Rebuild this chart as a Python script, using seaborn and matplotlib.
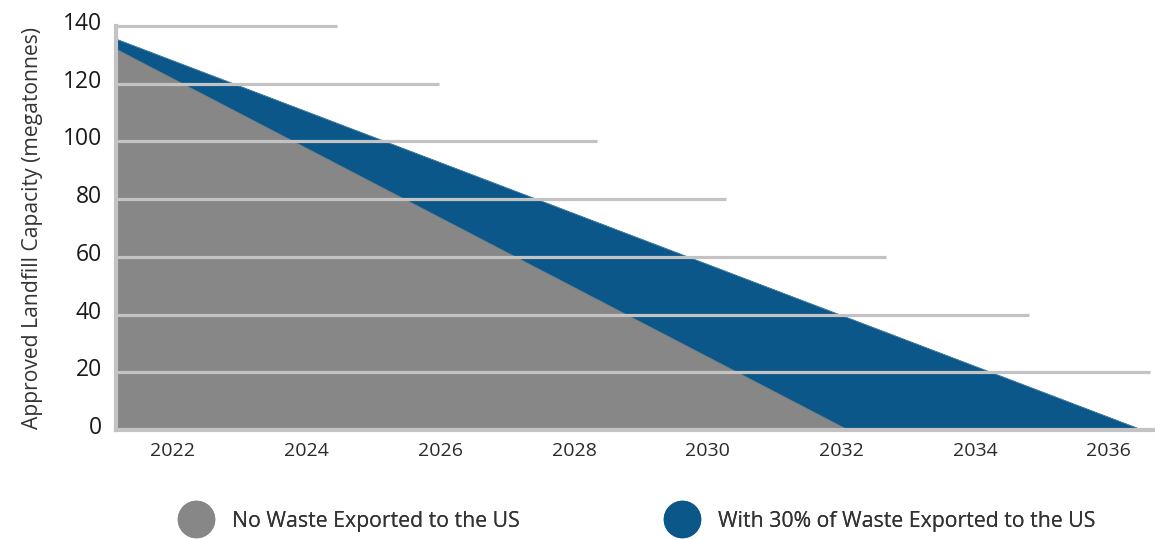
import matplotlib
matplotlib.use("Agg")
import matplotlib.pyplot as plt
import matplotlib.transforms as mtransforms
from matplotlib.lines import Line2D
from matplotlib import font_manager
import seaborn as sns
import pandas as pd

# ---- data ----
years_none = [2021.15, 2032.1]
cap_none = [132, 0]
years_export = [2021.15, 2036.5]
cap_export = [135.5, 0]
x_ticks = [2022, 2024, 2026, 2028, 2030, 2032, 2034, 2036]
y_ticks = [0, 20, 40, 60, 80, 100, 120, 140]
grid_levels = [140, 120, 100, 80, 60, 40, 20]
grid_ends = [2024.45, 2025.98, 2028.35, 2030.28, 2032.67, 2034.8, 2036.62]
label_none = "No Waste Exported to the US"
label_export = "With 30% of Waste Exported to the US"
y_label = "Approved Landfill Capacity (megatonnes)"

GRAY = "#878787"
BLUE = "#0b5789"
GRID = "#c3c3c3"

sns.set_theme(style="white")
plt.rcParams["font.family"] = ["Open Sans", "DejaVu Sans"]

names = {f.name for f in font_manager.fontManager.ttflist}
if "Liberation Sans Narrow" in names:
    xfam, xfs = ["Liberation Sans Narrow", "DejaVu Sans"], 17.5
else:
    xfam, xfs = ["Open Sans", "DejaVu Sans"], 14

fig = plt.figure(figsize=(11.55, 5.39), dpi=100)
ax = fig.add_axes([116 / 1155, 1 - 430 / 539, 1 - 116 / 1155, (430 - 26) / 539])

df_e = pd.DataFrame({"year": years_export, "cap": cap_export})
df_n = pd.DataFrame({"year": years_none, "cap": cap_none})

sns.lineplot(data=df_e, x="year", y="cap", color=BLUE, lw=0.5, ax=ax, zorder=1)
ax.fill_between(df_e["year"], df_e["cap"], 0, color=BLUE, lw=0, zorder=1)
sns.lineplot(data=df_n, x="year", y="cap", color=GRAY, lw=0.5, ax=ax, zorder=2)
ax.fill_between(df_n["year"], df_n["cap"], 0, color=GRAY, lw=0, zorder=2)

x_left = years_export[0]
ax.hlines(grid_levels, x_left, grid_ends, color=GRID, lw=2.3, zorder=3, clip_on=False)

ax.set_xlim(x_left, 2036.69)
ax.set_ylim(0, 140)

ax.set_xticks(x_ticks)
ax.set_xticklabels([str(t) for t in x_ticks], family=xfam, fontsize=xfs, color="#2a2a2a")
ax.set_yticks(y_ticks)
ax.set_yticklabels([str(t) for t in y_ticks], fontsize=16.5, color="#1a1a1a")
ax.tick_params(axis="x", length=0, pad=9)
ax.tick_params(axis="y", length=0, pad=10)
offset = mtransforms.ScaledTranslation(0, 5 / 100, fig.dpi_scale_trans)
for lab in ax.get_yticklabels():
    lab.set_transform(lab.get_transform() + offset)

ax.set_xlabel("")
ax.set_ylabel(y_label, fontsize=15.2, color="#333333", labelpad=14)

for s in ["top", "right"]:
    ax.spines[s].set_visible(False)
for s in ["left", "bottom"]:
    ax.spines[s].set_color(GRID)
    ax.spines[s].set_linewidth(3)
    ax.spines[s].set_zorder(4)
ax.grid(False)

h1 = Line2D([], [], marker="o", color="none", markerfacecolor=GRAY, markeredgecolor=GRAY, markersize=26)
h2 = Line2D([], [], marker="o", color="none", markerfacecolor=BLUE, markeredgecolor=BLUE, markersize=26)
for h, lab, xc in [(h1, label_none, 196), (h2, label_export, 682)]:
    fs = 15.3
    fs_px = fs * 100 / 72
    leg = fig.legend([h], [lab], loc="center left",
                     bbox_to_anchor=((xc - fs_px / 2) / 1155, 1 - 521 / 539),
                     frameon=False, fontsize=fs, handlelength=1.0,
                     handletextpad=(232 - 196 - fs_px / 2) / fs_px,
                     borderpad=0, borderaxespad=0)
    for t in leg.get_texts():
        t.set_color("#333333")
    fig.add_artist(leg)

fig.savefig("out.png", dpi=100)
